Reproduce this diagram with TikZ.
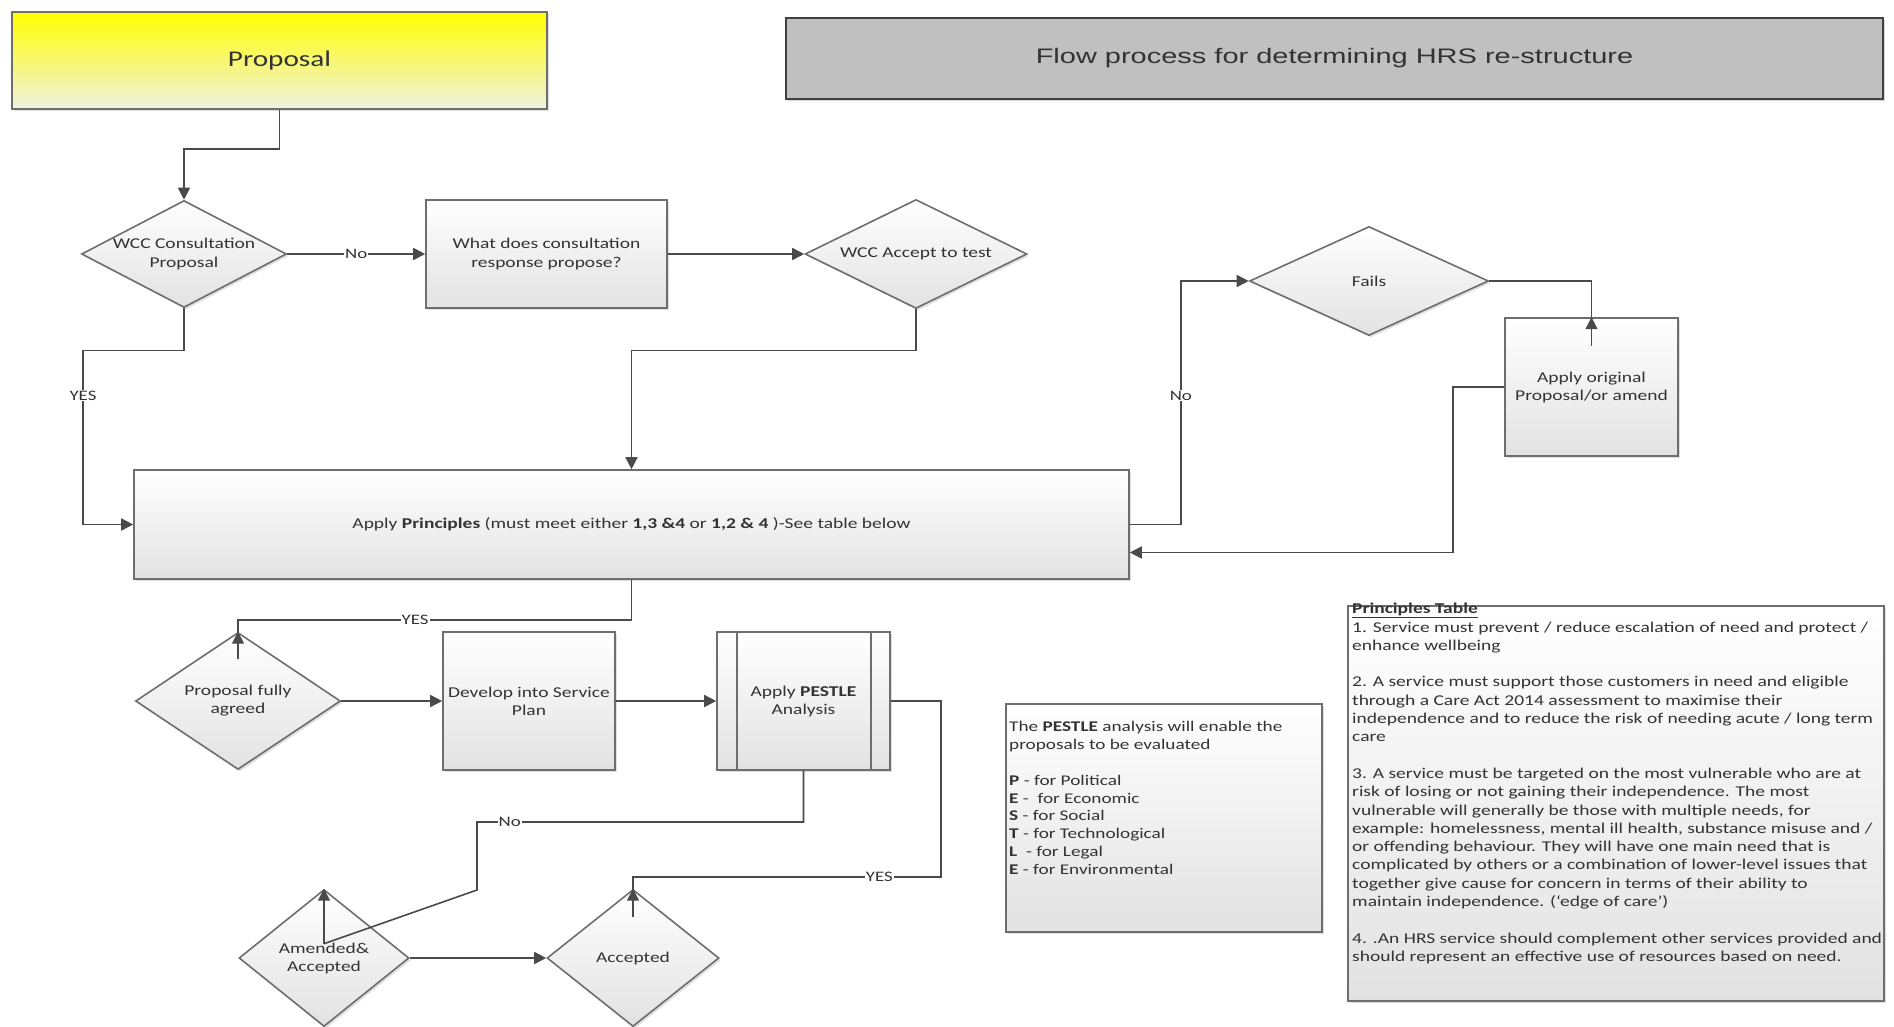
\documentclass[tikz,border=0pt]{standalone}
\usepackage{fontspec}
\setmainfont{Carlito}[FakeStretch=1.3]
\newfontfamily\titlefont{Liberation Sans}[FakeStretch=1.38]
\usetikzlibrary{shapes.geometric,arrows.meta,shadows,calc}
\definecolor{linec}{HTML}{4A4A4A}
\definecolor{borderc}{HTML}{6E6E6E}
\definecolor{shadebot}{HTML}{E2E2E2}
\definecolor{titlefill}{HTML}{C0C0C0}
\definecolor{paleyel}{HTML}{F0F0E2}
\definecolor{textc}{HTML}{333333}
\tikzset{
  conn/.style={draw=linec, line width=1.6pt},
  arr/.style={conn, -{Triangle[length=12pt,width=12pt]}},
  shadebox/.style={draw=borderc, line width=1.6pt, top color=white, bottom color=shadebot,
    drop shadow={opacity=0.25,shadow xshift=2pt,shadow yshift=-2pt},
    text=textc, align=center, inner sep=0pt, font=\fontsize{15}{18}\selectfont},
  procbox/.style={shadebox, rectangle},
  decision/.style={shadebox, diamond},
  lbl/.style={fill=white, inner sep=1pt, text=textc, font=\fontsize{14.5}{16}\selectfont},
  notetext/.style={anchor=north west, inner sep=0pt, align=left, text=textc},
}
\begin{document}
\begin{tikzpicture}[x=1pt,y=-1pt]
\useasboundingbox (0,0) rectangle (1894,1027);
\fill[white] (0,0) rectangle (1894,1027);

% header boxes
\node[draw=borderc, line width=1.6pt, top color=yellow, bottom color=paleyel,
  drop shadow={opacity=0.25,shadow xshift=2pt,shadow yshift=-2pt},
  minimum width=535pt, minimum height=97pt, inner sep=0pt, text=textc,
  font=\fontsize{22.5}{27}\selectfont] (proposal) at (279.5,60.5) {Proposal};
\node[draw=black!75, line width=1.6pt, fill=titlefill,
  drop shadow={opacity=0.3,shadow xshift=2pt,shadow yshift=-2pt},
  minimum width=1097pt, minimum height=81pt, inner sep=0pt, text=textc,
  font=\fontsize{21}{25}\selectfont\titlefont] (title) at (1334.5,58.5) {Flow process for determining HRS re-structure};

% flow nodes
\node[decision, aspect=1.916, minimum width=205pt, minimum height=107pt] (wcc) at (184,254) {WCC Consultation\\Proposal};
\node[procbox, minimum width=241pt, minimum height=108pt] (what) at (546.5,254) {What does consultation\\response propose?};
\node[decision, aspect=2.04, minimum width=222pt, minimum height=109pt] (accept) at (916,254) {WCC Accept to test};
\node[decision, aspect=2.19, minimum width=239pt, minimum height=109pt] (fails) at (1369,281) {Fails};
\node[procbox, minimum width=173pt, minimum height=138pt] (original) at (1591.5,387) {Apply original\\Proposal/or amend};
\node[procbox, minimum width=995pt, minimum height=109pt] (apply) at (631.5,524.5)
  {Apply \textbf{Principles} (must meet either \textbf{1,3 \&4} or \textbf{1,2 \& 4} )-See table below};
\node[decision, aspect=1.5, minimum width=205pt, minimum height=137pt] (agreed) at (238,701) {Proposal fully\\agreed};
\node[procbox, minimum width=172pt, minimum height=138pt] (develop) at (529,701) {Develop into Service\\Plan};
\node[procbox, minimum width=173pt, minimum height=138pt] (pestle) at (803.5,701) {Apply \textbf{PESTLE}\\Analysis};
\draw[draw=borderc, line width=1.6pt] ([xshift=21pt]pestle.north west) -- ([xshift=21pt]pestle.south west);
\draw[draw=borderc, line width=1.6pt] ([xshift=-20pt]pestle.north east) -- ([xshift=-20pt]pestle.south east);
\node[decision, aspect=1.24, minimum width=170pt, minimum height=137pt] (amended) at (324,958) {Amended\&\\Accepted};
\node[decision, aspect=1.255, minimum width=172pt, minimum height=137pt] (accepted) at (633,958) {Accepted};

% note boxes
\node[procbox, minimum width=316pt, minimum height=228pt] (pestlenote) at (1164,818) {};
\node[notetext, font=\fontsize{14.8}{17.9}\selectfont] (pestletext) at (1009,721) {The \textbf{PESTLE} analysis will enable the\\
proposals to be evaluated\\[17.9pt]
\textbf{P} - for Political\\
\textbf{E} -\ \ for Economic\\
\textbf{S} - for Social\\
\textbf{T} - for Technological\\
\textbf{L}\ \ - for Legal\\
\textbf{E} - for Environmental};

\node[procbox, minimum width=536pt, minimum height=395pt] (principles) at (1616,803.5) {};
\node[notetext, font=\fontsize{15}{18.3}\selectfont] (princtext) at (1352,603) {\underline{\textbf{Principles Table}}\\
1. Service must prevent / reduce escalation of need and protect /\\
enhance wellbeing\\[18.3pt]
2. A service must support those customers in need and eligible\\
through a Care Act 2014 assessment to maximise their\\
independence and to reduce the risk of needing acute / long term\\
care\\[18.3pt]
3. A service must be targeted on the most vulnerable who are at\\
risk of losing or not gaining their independence. The most\\
vulnerable will generally be those with multiple needs, for\\
example: homelessness, mental ill health, substance misuse and /\\
or offending behaviour. They will have one main need that is\\
complicated by others or a combination of lower-level issues that\\
together give cause for concern in terms of their ability to\\
maintain independence. (‘edge of care’)\\[18.3pt]
4. .An HRS service should complement other services provided and\\
should represent an effective use of resources based on need.};

% connectors
\draw[arr] (proposal.south) -- ++(0,39) -| (wcc.north);
\draw[arr] (wcc.east) -- node[lbl]{No} (what.west);
\draw[arr] (what.east) -- (accept.west);
\draw[arr] (accept.south) -- ++(0,41) -| (apply.north);
\draw[arr] (wcc.south) -- ++(0,42) -- ++(-101,0) coordinate (c1)
  -- (c1 |- apply.west) node[lbl, pos=0.26]{YES} -- (apply.west);
\draw[arr] (apply.east) -- ++(51,0) coordinate (c2)
  -- (c2 |- fails.west) node[lbl, pos=0.53]{No} -- (fails.west);
\coordinate (c3) at ($(original.north)+(0,29)$);
\draw[conn] (fails.east) -| (c3);
\draw[arr] (c3) -- (original.north);
\draw[arr] (original.west) -- ++(-51,0) |- ($(apply.east)+(0,28)$);

\coordinate (c4) at ($(agreed.north)+(0,27)$);
\draw[conn] (apply.south) -- ++(0,40) coordinate (c5)
  -- (c5 -| agreed.north) node[lbl, pos=0.55]{YES} -- (c4);
\draw[arr] (c4) -- (agreed.north);
\draw[arr] (agreed.east) -- (develop.west);
\draw[arr] (develop.east) -- (pestle.west);

\coordinate (k1) at (477,822);
\coordinate (k2) at (477,890);
\coordinate (k3) at ($(amended.north)+(0,55)$);
\draw[conn] (pestle.south) |- node[lbl, pos=0.95]{No} (k1) -- (k2) -- (k3);
\draw[arr] (k3) -- (amended.north);

\coordinate (k4) at (941,877);
\coordinate (k5) at ($(accepted.north)+(0,28)$);
\draw[conn] (pestle.east) -| (k4) -- (k4 -| accepted.north) node[lbl, pos=0.2]{YES} -- (k5);
\draw[arr] (k5) -- (accepted.north);
\draw[arr] (amended.east) -- (accepted.west);
\end{tikzpicture}
\end{document}
